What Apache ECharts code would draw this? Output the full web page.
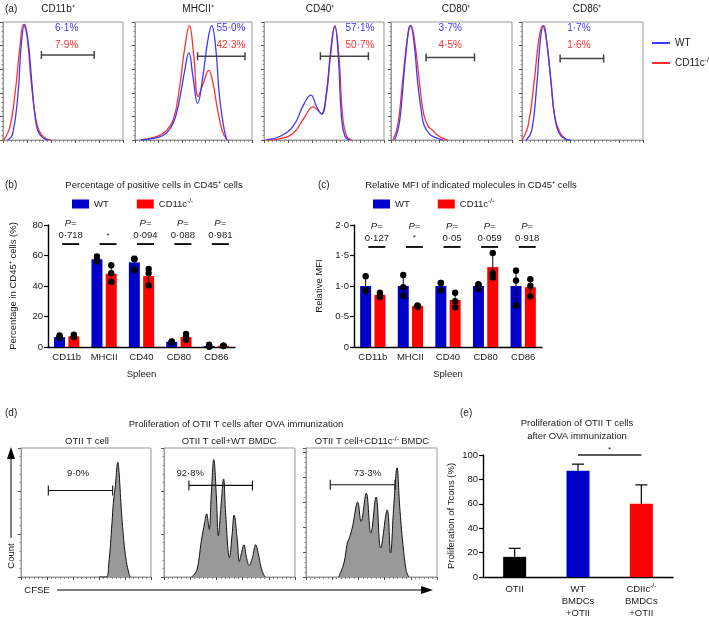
<!DOCTYPE html>
<html><head><meta charset="utf-8">
<script src="https://cdn.jsdelivr.net/npm/echarts@6/dist/echarts.min.js"></script>
<style>html,body{margin:0;padding:0;background:#fff}#c{width:709px;height:623px}</style>
</head><body><div id="c"></div>
<script>
// ================= DATA =================
// (a) flow histograms: [fluorescence (normalised 0-100), count (% of box)]
const aTitles = ['CD11b⁺','MHCII⁺','CD40⁺','CD80⁺','CD86⁺'];
const aWTcurves = [
  [[4,0],[8,5],[12.5,39],[15,78],[18,98],[21,83],[24,49],[26.5,22],[29,8],[33,2],[37.5,0]],
  [[5,0],[19,2],[27,6],[33,15],[38,34],[42.5,59],[46,74],[49.5,54],[53.5,31],[58,54],[62,83],[65.5,97],[69,78],[72,39],[76,10],[78.5,0]],
  [[2,0],[13,3],[24.5,12],[33,30],[39,38],[44,28],[48,22],[52,40],[55.5,75],[59,97],[62,70],[64.5,20],[67.5,3],[71.5,0]],
  [[3,0],[7,15],[11,59],[14.5,93],[16,97],[19,83],[22,49],[25,25],[27.5,12],[32,5],[37,2],[43,0]],
  [[3.5,0],[8,8],[12,44],[15.5,88],[18,97],[20.5,83],[24,49],[27,20],[30.5,6],[35.5,1],[40,0]]
];
const aKOcurves = [
  [[0.5,0],[5.5,10],[10,39],[14,78],[17,98],[20,88],[23.5,49],[27,20],[30.5,7],[36,1],[40,0]],
  [[5,0],[19,3],[27,8],[33,18],[38,44],[42.5,78],[46.5,97],[50,74],[54,37],[58,47],[63,59],[66.5,49],[70,29],[74.5,8],[78.5,0]],
  [[2,0],[13,1],[24.5,6],[33,18],[41,28],[45,25],[48,22],[52,38],[55.5,72],[59,96],[62.5,70],[65.5,20],[69,3],[73,0]],
  [[1.5,0],[5.5,12],[9.5,49],[14,90],[16.5,97],[20,80],[23.5,49],[27,22],[30.5,12],[34.5,8],[38.5,4],[44,1],[47,0]],
  [[0,0],[5,12],[10,49],[14,86],[17,97],[20,86],[24,49],[27,20],[31.5,6],[37,0]]
];
const aWTpct = ['6·1%','55·0%','57·1%','3·7%','1·7%'];
const aKOpct = ['7·9%','42·3%','50·7%','4·5%','1·6%'];
const aGates = [[32,76,72],[53.5,94,71],[47,87,71],[29,69,70],[31.5,67.5,69]];

// (b) percentage of positive cells
const cats = ['CD11b','MHCII','CD40','CD80','CD86'];
const bWT = [6.5, 57.5, 55.5, 3.4, 0.7];
const bKO = [7, 48, 46.5, 6.5, 0.8];
const bWTsd = [0.8, 1.7, 4, 0.4, 0.7];
const bKOsd = [0.9, 5.5, 5.5, 2, 0.15];
const bWTpts = [[6,7.5,6.5],[56,59.3,57.5],[57.7,50.5,57.7],[3.5,3,3.7],[0.2,1.5,0.4]];
const bKOpts = [[6.5,6.5,8],[53.6,48.4,42.7],[51.2,48.3,40.3],[4.8,6.5,8.5],[0.9,0.7,0.9]];
const bPvals = ['0·718','*','0·094','0·088','0·981'];
const bHasP = [true,false,true,true,true];

// (c) relative MFI
const cWT = [1,1,1,1,1];
const cKO = [0.855, 0.675, 0.77, 1.31, 0.98];
const cWTsd = [0.13, 0.17, 0.07, 0.04, 0.29];
const cKOsd = [0.035, 0.01, 0.12, 0.21, 0.14];
const cWTpts = [[1.16,0.93,0.93],[1.18,0.98,0.84],[1.05,1.05,0.93],[1.03,0.95,1.02],[1.25,1.09,0.68]];
const cKOpts = [[0.89,0.86,0.82],[0.68,0.67,0.66],[0.89,0.75,0.65],[1.54,1.21,1.14],[1.11,1.0,0.83]];
const cPvals = ['0·127','*','0·05','0·059','0·918'];
const cHasP = [true,true,true,true,true];

// (d) CFSE histograms
const dTitles = ['OTII T cell','OTII T cell+WT BMDC','OTII T cell+CD11c{s|-/-} BMDC'];
const dCurves = [
  [[60,0],[65.5,0],[67.5,10],[70,42],[71,57],[72.5,70],[74.5,89],[75.5,80],[77,55],[79,29],[81,12],[83,3],[84,0]],
  [[21,0],[25,5],[28.5,28],[31,42],[32.5,49],[34.5,37],[36,62],[38,91],[40,62],[41.5,32],[43.5,55],[45.5,76],[47,50],[50,15],[52,33],[53.5,48],[56,28],[57.5,12],[59,18],[61,25],[63,15],[65,9],[67.5,15],[70,25],[72,18],[74,8],[76,2],[77.5,0]],
  [[25,0],[29,11],[31.5,26],[33.5,31.5],[35.5,39],[39.5,58],[42,43],[46,65],[49.5,34],[53.5,62],[57,22.5],[62,52],[64.5,18.6],[67,55],[69.5,84.5],[71.5,55],[74,25],[76.5,5],[78.5,0]]
];
const dPct = ['9·0%','92·8%','73·3%'];
const dGates = [[21,70.5,67],[19,67.5,71],[18.5,68,71.5]];

// (e) proliferation
const eCats = ['OTII','WT\nBMDCs\n+OTII','CDIIc{s|-/-}\nBMDCs\n+OTII'];
const eVals = [16.5, 87, 60];
const eSD = [7, 5.5, 15.5];
const eSig = [[1, 2, 100, '*']];

// ================= LAYOUT / STYLE =================
const FF = '"Liberation Sans", Arial, Helvetica, sans-serif';
const TXT = '#1a1a1a';
const BLUE_L = '#3a3aff', RED_L = '#ff3030';
const BLUE = '#0000cd', RED = '#ff0000';
const aBoxes = [[3,22,120,118],[135,22,117,118],[264,22,120,118],[391,22,121,118],[522,22,121,118]];
const aTitleX = [58,198,320,456,587];
const aLabelPos = [[53,95,80],[82,95,80],[80,95,80],[49,95,80],[47,95,80]];
const dBoxes = [[21,448,130,129],[164,448,131,129],[306,448,131,129]];
const dTitleX = [87,229,372];
const dPctPos = [[44,80],[20,80],[47,80]];
const dYInt = [33.34,33.34,19.4];
const eColors = ['#000000', BLUE, RED];
const supRich = {s:{fontSize:6.5, fontFamily:FF, color:TXT, verticalAlign:'top', lineHeight:7}};

const grids = [], xAxes = [], yAxes = [], series = [];
function boxGrid(b){ return {left:b[0], top:b[1], width:b[2], height:b[3], show:true, borderColor:'#999', borderWidth:1, outerBoundsMode:'none'}; }
function histX(gi){
  return {gridIndex:gi, type:'value', min:0, max:100, interval:20,
    axisLine:{show:true, lineStyle:{color:'#999', width:1}},
    axisTick:{show:true, length:3, lineStyle:{color:'#555'}},
    minorTick:{show:true, splitNumber:6, length:2, lineStyle:{color:'#888'}},
    axisLabel:{show:false}, splitLine:{show:false}, minorSplitLine:{show:false}};
}
function histY(gi, interval){
  return {gridIndex:gi, type:'value', min:0, max:100, interval:interval,
    axisLine:{show:true, lineStyle:{color:'#999', width:1}},
    axisTick:{show:true, length:3, lineStyle:{color:'#555'}},
    minorTick:{show:true, splitNumber:5, length:1.5, lineStyle:{color:'#888'}},
    axisLabel:{show:false}, splitLine:{show:false}, minorSplitLine:{show:false}};
}
function gateSeries(gi, gate, labels, capH, color, lw){
  return {type:'custom', xAxisIndex:gi, yAxisIndex:gi, data:[gate], silent:true, z:5,
    encode:{x:[0,1], y:2},
    renderItem:(p, api)=>{
      const a = api.coord([api.value(0), api.value(2)]), b = api.coord([api.value(1), api.value(2)]);
      const st = {stroke:color, lineWidth:lw};
      const ch = [
        {type:'line', shape:{x1:a[0],y1:a[1],x2:b[0],y2:b[1]}, style:st},
        {type:'line', shape:{x1:a[0],y1:a[1]-capH,x2:a[0],y2:a[1]+capH}, style:st},
        {type:'line', shape:{x1:b[0],y1:b[1]-capH,x2:b[0],y2:b[1]+capH}, style:st}
      ];
      labels.forEach(l=>{
        const c = api.coord([l.x, l.y]);
        ch.push({type:'text', x:c[0], y:c[1], style:{text:l.text, fill:l.color, fontSize:l.size, fontFamily:FF, align:'center', verticalAlign:'middle'}});
      });
      return {type:'group', children:ch};
    }};
}

// ---- (a)
aBoxes.forEach((b,i)=>{
  grids.push(boxGrid(b));
  xAxes.push(histX(i)); yAxes.push(histY(i, 20));
  series.push({name:'aKO', type:'line', xAxisIndex:i, yAxisIndex:i, data:aKOcurves[i], smooth:0.45, symbol:'none', lineStyle:{color:RED_L, width:1.3}, itemStyle:{color:RED_L}, silent:true});
  series.push({name:'aWT', type:'line', xAxisIndex:i, yAxisIndex:i, data:aWTcurves[i], smooth:0.45, symbol:'none', lineStyle:{color:BLUE_L, width:1.3}, itemStyle:{color:BLUE_L}, silent:true});
  const lp = aLabelPos[i];
  series.push(gateSeries(i, aGates[i], [
    {x:lp[0], y:lp[1], text:aWTpct[i], color:BLUE_L, size:10},
    {x:lp[0], y:lp[2], text:aKOpct[i], color:RED_L, size:10}], 4, '#444', 1.5));
});

// ---- bar panels (b),(c)
function barPanel(gi, grid, yCfg, wt, ko, wtsd, kosd, wtpts, kopts, pv, hasP, lineVal, yName, nameGap){
  grids.push(grid);
  xAxes.push({gridIndex:gi, type:'category', data:cats,
    axisLine:{lineStyle:{color:'#000', width:1.4}},
    axisTick:{alignWithLabel:true, length:4, lineStyle:{color:'#000', width:1.2}},
    axisLabel:{interval:0, hideOverlap:false, fontSize:9.5, fontFamily:FF, color:TXT, margin:5},
    name:'Spleen', nameLocation:'middle', nameGap:22, nameTextStyle:{fontSize:9.5, fontFamily:FF, color:TXT}});
  yAxes.push(Object.assign({gridIndex:gi, type:'value',
    axisLine:{show:true, lineStyle:{color:'#000', width:1.4}},
    axisTick:{show:true, length:4, lineStyle:{color:'#000', width:1.2}},
    splitLine:{show:false},
    name:yName, nameLocation:'middle', nameGap:nameGap, nameTextStyle:{fontSize:9.5, fontFamily:FF, color:TXT}}, yCfg));
  const bw = 11, gap = 0.3, off = (bw + bw*gap)/2;
  const pre = gi===5 ? 'b' : 'c';
  series.push({name:pre+'WT', type:'bar', xAxisIndex:gi, yAxisIndex:gi, data:wt, barWidth:bw, barGap:(gap*100)+'%', itemStyle:{color:BLUE}, silent:true});
  series.push({name:pre+'KO', type:'bar', xAxisIndex:gi, yAxisIndex:gi, data:ko, barWidth:bw, itemStyle:{color:RED}, silent:true});
  const errData = [];
  wt.forEach((v,i)=>errData.push([i, v, wtsd[i], -1]));
  ko.forEach((v,i)=>errData.push([i, v, kosd[i], 1]));
  series.push({type:'custom', xAxisIndex:gi, yAxisIndex:gi, data:errData, encode:{x:0, y:1}, silent:true, z:3,
    renderItem:(p, api)=>{
      const i = api.value(0), m = api.value(1), s = api.value(2), g = api.value(3);
      const t = api.coord([i, m+s]), b = api.coord([i, Math.max(0, m-s)]);
      const x = t[0] + g*off, st = {stroke:'#000', lineWidth:1};
      return {type:'group', children:[
        {type:'line', shape:{x1:x, y1:t[1], x2:x, y2:b[1]}, style:st},
        {type:'line', shape:{x1:x-2.5, y1:t[1], x2:x+2.5, y2:t[1]}, style:st},
        {type:'line', shape:{x1:x-2.5, y1:b[1], x2:x+2.5, y2:b[1]}, style:st}]};
    }});
  [[wtpts,-1],[kopts,1]].forEach(([pts, g])=>{
    const dd = []; pts.forEach((grp,i)=>grp.forEach(v=>dd.push([i, v])));
    series.push({type:'custom', xAxisIndex:gi, yAxisIndex:gi, data:dd, encode:{x:0, y:1}, silent:true, z:4,
      renderItem:(p, api)=>{
        const i = api.value(0), k = p.dataIndex % 3;
        const ys = pts[i].map(v=>api.coord([i, v])[1]);
        const order = ys.map((y,j)=>j).sort((a,b)=>ys[b]-ys[a]);
        const placed = [], offs = [0,0,0];
        order.forEach(j=>{
          for (const c of [0,-4.5,4.5]) {
            if (placed.every(q=>Math.abs(q.y-ys[j])>=5.5 || Math.abs(q.x-c)>=5.5)) { offs[j]=c; placed.push({x:c,y:ys[j]}); return; }
          }
          placed.push({x:0,y:ys[j]});
        });
        const cx = api.coord([i, 0])[0] + g*off + offs[k];
        return {type:'circle', shape:{cx:cx, cy:ys[k], r:3.2}, style:{fill:'#000'}};
      }});
  });
  series.push({type:'custom', xAxisIndex:gi, yAxisIndex:gi, data:pv.map((t,i)=>[i, lineVal]), encode:{x:0, y:1}, silent:true, z:5,
    renderItem:(p, api)=>{
      const i = p.dataIndex, c = api.coord([i, lineVal]);
      const x = c[0] + 4, y = c[1];
      const ch = [{type:'line', shape:{x1:x-8.5, y1:y, x2:x+8.5, y2:y}, style:{stroke:'#000', lineWidth:1.8}}];
      if (hasP[i]) {
        ch.push({type:'text', x:x, y:y-21, style:{text:'P=', fontStyle:'italic', fontSize:9.5, fontFamily:FF, fill:TXT, align:'center', verticalAlign:'middle'}});
        ch.push({type:'text', x:x, y:y-9, style:{text:pv[i], fontSize:pv[i]==='*'?8:9.5, fontFamily:FF, fill:TXT, align:'center', verticalAlign:'middle'}});
      } else {
        ch.push({type:'text', x:x, y:y-8, style:{text:pv[i], fontSize:8, fontFamily:FF, fill:TXT, align:'center', verticalAlign:'middle'}});
      }
      return {type:'group', children:ch};
    }});
}
barPanel(5, {left:48, top:225, width:187, height:122, outerBoundsMode:'none'},
  {min:0, max:80, interval:20, axisLabel:{fontSize:9.5, fontFamily:FF, color:TXT, margin:5}},
  bWT, bKO, bWTsd, bKOsd, bWTpts, bKOpts, bPvals, bHasP, 67.5, 'Percentage in CD45⁺ cells (%)', 30);
barPanel(6, {left:354, top:225, width:188, height:122, outerBoundsMode:'none'},
  {min:0, max:2, interval:0.5, axisLabel:{fontSize:9.5, fontFamily:FF, color:TXT, margin:5, formatter:v=>v===0?'0':v.toFixed(1).replace('.','·')}},
  cWT, cKO, cWTsd, cKOsd, cWTpts, cKOpts, cPvals, cHasP, 1.64, 'Relative MFI', 30);

// ---- (d)
dBoxes.forEach((b,j)=>{
  const gi = 7 + j;
  grids.push(boxGrid(b));
  xAxes.push(histX(gi)); yAxes.push(histY(gi, dYInt[j]));
  series.push({type:'line', xAxisIndex:gi, yAxisIndex:gi, data:dCurves[j], smooth:0.4, symbol:'none',
    lineStyle:{color:'#111', width:1}, areaStyle:{color:'#999999', opacity:1}, silent:true});
  series.push(gateSeries(gi, dGates[j], [{x:dPctPos[j][0], y:dPctPos[j][1], text:dPct[j], color:TXT, size:9.5}], 5, '#111', 1.1));
});

// ---- (e)
grids.push({left:483, top:455, width:190, height:122, outerBoundsMode:'none'});
xAxes.push({gridIndex:10, type:'category', data:eCats,
  axisLine:{lineStyle:{color:'#000', width:1.4}},
  axisTick:{alignWithLabel:true, length:4, lineStyle:{color:'#000', width:1.2}},
  axisLabel:{interval:0, fontSize:9.5, lineHeight:12, fontFamily:FF, color:TXT, margin:6, rich:supRich}});
yAxes.push({gridIndex:10, type:'value', min:0, max:100, interval:20,
  axisLine:{show:true, lineStyle:{color:'#000', width:1.4}},
  axisTick:{show:true, length:4, lineStyle:{color:'#000', width:1.2}},
  axisLabel:{fontSize:9.5, fontFamily:FF, color:TXT, margin:5}, splitLine:{show:false},
  name:'Proliferation of Tcons (%)', nameLocation:'middle', nameGap:27, nameTextStyle:{fontSize:9.5, fontFamily:FF, color:TXT}});
series.push({type:'bar', xAxisIndex:10, yAxisIndex:10, barWidth:23, silent:true,
  data:eVals.map((v,i)=>({value:v, itemStyle:{color:eColors[i]}}))});
series.push({type:'custom', xAxisIndex:10, yAxisIndex:10, data:eVals.map((v,i)=>[i, v, eSD[i]]), encode:{x:0, y:1}, silent:true, z:3,
  renderItem:(p, api)=>{
    const i = api.value(0), m = api.value(1), s = api.value(2);
    const t = api.coord([i, m+s]), b = api.coord([i, m]), st = {stroke:'#000', lineWidth:1.2};
    return {type:'group', children:[
      {type:'line', shape:{x1:t[0], y1:t[1], x2:b[0], y2:b[1]}, style:st},
      {type:'line', shape:{x1:t[0]-6, y1:t[1], x2:t[0]+6, y2:t[1]}, style:st}]};
  }});
series.push({type:'custom', xAxisIndex:10, yAxisIndex:10, data:eSig.map(s=>[s[0], s[2], s[1]]), encode:{x:0, y:1}, silent:true, z:5,
  renderItem:(p, api)=>{
    const s = eSig[p.dataIndex];
    const a = api.coord([s[0], s[2]]), b = api.coord([s[1], s[2]]);
    return {type:'group', children:[
      {type:'line', shape:{x1:a[0], y1:a[1], x2:b[0], y2:b[1]}, style:{stroke:'#222', lineWidth:1.6}},
      {type:'text', x:(a[0]+b[0])/2, y:a[1]-5, style:{text:s[3], fontSize:8, fontFamily:FF, fill:TXT, align:'center', verticalAlign:'middle'}}]};
  }});

// ---- legends
const legFmt = n => n.endsWith('WT') ? 'WT' : 'CD11c{s|-/-}';
const legText = {fontSize:10, fontFamily:FF, color:TXT, lineHeight:12, rich:supRich};
const legends = [
  {left:652, top:37, padding:0, orient:'vertical', itemWidth:18, itemHeight:2, itemGap:8, icon:'rect', data:['aWT','aKO'], formatter:legFmt, textStyle:legText, selectedMode:false},
  {left:72, top:198, padding:0, itemWidth:17, itemHeight:9, itemGap:28, icon:'rect', data:['bWT','bKO'], formatter:legFmt, textStyle:Object.assign({}, legText, {fontSize:9.5}), selectedMode:false},
  {left:373, top:198, padding:0, itemWidth:17, itemHeight:9, itemGap:28, icon:'rect', data:['cWT','cKO'], formatter:legFmt, textStyle:Object.assign({}, legText, {fontSize:9.5}), selectedMode:false}
];

// ---- free text and arrows
function txt(x, y, text, size, opt){
  return Object.assign({type:'text', x:x, y:y, silent:true,
    style:Object.assign({text:text, fontSize:size||9.5, fontFamily:FF, fill:TXT, align:'center', verticalAlign:'middle', rich:supRich}, (opt||{}).style||{})}, opt && opt.rot ? {rotation:opt.rot} : {});
}
const graphics = [
  txt(5, 9, '(a)', 10, {style:{align:'left'}}),
  txt(5, 185, '(b)', 10, {style:{align:'left'}}),
  txt(318, 185, '(c)', 10, {style:{align:'left'}}),
  txt(5, 413, '(d)', 10, {style:{align:'left'}}),
  txt(460, 413, '(e)', 10, {style:{align:'left'}}),
  txt(154, 185, 'Percentage of positive cells in CD45⁺ cells', 9.5),
  txt(471, 185, 'Relative MFI of indicated molecules in CD45⁺ cells', 9.5),
  txt(236, 424, 'Proliferation of OTII T cells after OVA immunization', 9.5),
  txt(577, 423, 'Proliferation of OTII T cells', 9.5),
  txt(577, 436, 'after OVA immunization', 9.5),
  txt(11, 556, 'Count', 9.5, {rot:Math.PI/2}),
  txt(37, 590, 'CFSE', 9.5),
  {type:'line', silent:true, shape:{x1:11, y1:538, x2:11, y2:458}, style:{stroke:'#000', lineWidth:1}},
  {type:'polygon', silent:true, shape:{points:[[11,447],[7,459],[15,459]]}, style:{fill:'#000'}},
  {type:'line', silent:true, shape:{x1:57, y1:590, x2:424, y2:590}, style:{stroke:'#000', lineWidth:1}},
  {type:'polygon', silent:true, shape:{points:[[433,590],[421,586],[421,594]]}, style:{fill:'#000'}}
];
aTitles.forEach((t,i)=>graphics.push(txt(aTitleX[i], 9, t, 10)));
dTitles.forEach((t,i)=>graphics.push(txt(dTitleX[i], 441, t, 9.5)));

const chart = echarts.init(document.getElementById('c'), null, {renderer:'canvas'});
chart.setOption({
  animation:false, backgroundColor:'#fff',
  textStyle:{fontFamily:FF},
  grid:grids, xAxis:xAxes, yAxis:yAxes, series:series, legend:legends, graphic:graphics
});
</script></body></html>
